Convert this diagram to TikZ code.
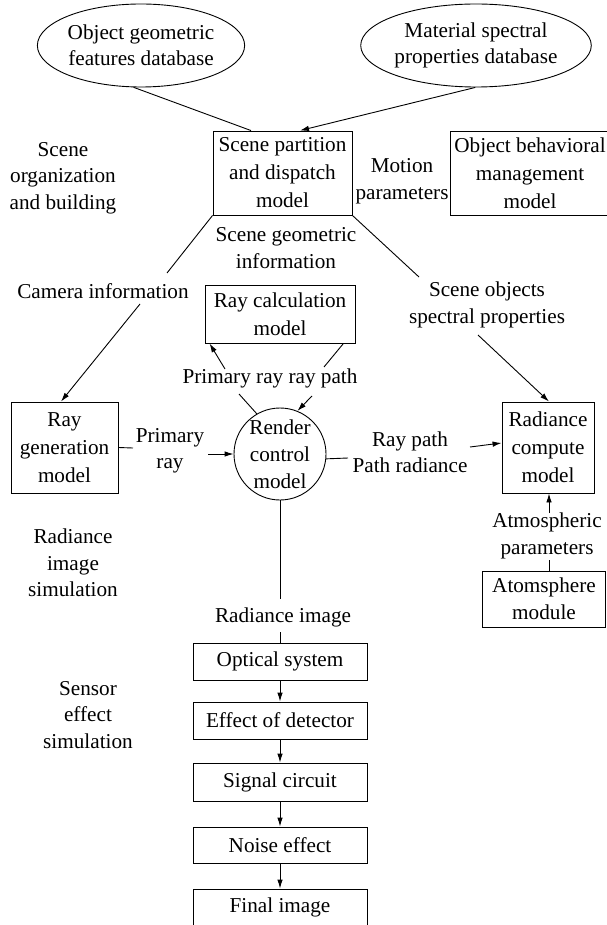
\documentclass[tikz,border=0pt]{standalone}
\usepackage{fontspec}
\setmainfont{Liberation Serif}
\usetikzlibrary{shapes.geometric,arrows.meta}
\newcommand\ffb{\fontsize{21.2}{28}\selectfont}
\newcommand\ffl{\fontsize{21.2}{26.5}\selectfont}
\newcommand\ffc{\fontsize{21.2}{27}\selectfont}
\tikzset{
  box/.style={draw, rectangle, align=center, inner sep=0pt, font=\ffb},
  oval/.style={draw, ellipse, align=center, inner sep=0pt, font=\ffl},
  lbl/.style={align=center, inner sep=0pt, font=\ffl},
  arr/.style={-{Latex[length=9pt,width=5.5pt]}},
  every path/.style={line width=0.9pt}
}
\begin{document}
\begin{tikzpicture}[x=1pt,y=-1pt]
\useasboundingbox (0,0) rectangle (606,925);
% ellipses
\node[oval, minimum width=202pt, minimum height=83pt] (e1) at (141,45.5) {Object geometric\\features database};
\node[oval, minimum width=210pt, minimum height=83pt] (e2) at (476,45.5) {Material spectral\\properties database};
% boxes
\node[box, minimum width=139pt, minimum height=84pt] (spd) at (282.5,173) {Scene partition\\and dispatch\\model};
\node[box, minimum width=160pt, minimum height=84pt] (obm) at (530,173) {Object behavioral\\management\\model};
\node[box, minimum width=150pt, minimum height=58pt] (rcalc) at (280,314) {Ray calculation\\model};
\node[box, minimum width=107pt, minimum height=91pt] (rgen) at (64.5,447.5) {Ray\\generation\\model};
\node[draw, circle, align=center, inner sep=0pt, minimum size=92pt, font=\ffc] (rcm) at (280,454) {Render\\control\\model};
\node[box, minimum width=92pt, minimum height=91pt] (radc) at (548,447.5) {Radiance\\compute\\model};
\node[box, minimum width=123pt, minimum height=56pt, font=\ffc] (atm) at (544,599) {Atomsphere\\module};
\node[box, minimum width=174pt, minimum height=37pt] (opt) at (280,661.5) {Optical system};
\node[box, minimum width=174pt, minimum height=37pt] (eod) at (280,720.5) {Effect of detector};
\node[box, minimum width=174pt, minimum height=38pt] (sig) at (280,782) {Signal circuit};
\node[box, minimum width=174pt, minimum height=36pt] (noi) at (280,845) {Noise effect};
\node[box, minimum width=174pt, minimum height=37pt] (fin) at (280,907.5) {Final image};
% labels
\node[lbl] (lorg) at (63,178) {Scene\\organization\\and building};
\node[lbl] (lmot) at (402,181) {Motion\\parameters};
\node[lbl] (lgeo) at (286,248) {Scene geometric\\information};
\node[lbl] (lcam) at (103,291) {Camera information};
\node[lbl] (lspec) at (487,305) {Scene objects\\spectral properties};
\node[lbl] (lprp) at (270,378) {Primary ray ray path};
\node[lbl] (lpr) at (170,451) {Primary\\ray};
\node[lbl] (lrp) at (410,452) {Ray path\\Path radiance};
\node[lbl] (latp) at (547,536) {Atmospheric\\parameters};
\node[lbl] (lris) at (73,563) {Radiance\\image\\simulation};
\node[lbl] (lri) at (283,617) {Radiance image};
\node[lbl] (lses) at (88,715) {Sensor\\effect\\simulation};
% free ends
\coordinate (c1) at (167,273);
\coordinate (c2) at (140,304);
\coordinate (c3) at (419,277);
\coordinate (c4) at (478,335);
\coordinate (c5) at (225,369);
\coordinate (c6) at (324,367);
\coordinate (c7) at (239,394);
\coordinate (c8) at (312,396);
\coordinate (c9) at (133,448);
\coordinate (c10) at (208,454);
\coordinate (c11) at (348,458);
\coordinate (c12) at (470,447);
\coordinate (c13) at (549,513);
\coordinate (c14) at (549,560);
\coordinate (c15) at (280,599);
\coordinate (c16) at (280,632);
% connectors
\draw (e1.-100) -- ([xshift=-31.5pt]spd.north);
\draw[arr] (e2.-91) -- ([xshift=17.5pt]spd.north);
\draw (spd.south west) -- (c1);
\draw[arr] (c2) -- ([xshift=-3.5pt]rgen.north);
\draw (spd.south east) -- (c3);
\draw[arr] (c4) -- ([xshift=1pt]radc.north);
\draw[arr] (c5) -- ([xshift=5pt]rcalc.south west);
\draw ([xshift=-12pt]rcalc.south east) -- (c6);
\draw (c7) -- (rcm.120);
\draw[arr] (c8) -- (rcm.68);
\draw (rgen.east) -- (c9);
\draw[arr] (c10) -- (rcm.west);
\draw (rcm.-6) -- (c11);
\draw[arr] (c12) -- ([yshift=4.5pt]radc.west);
\draw[arr] (c13) -- ([xshift=1pt]radc.south);
\draw (c14) -- ([xshift=5pt]atm.north);
\draw (rcm.south) -- (c15);
\draw (c16) -- (opt.north);
\draw[arr] (opt) -- (eod);
\draw[arr] (eod) -- (sig);
\draw[arr] (sig) -- (noi);
\draw[arr] (noi) -- (fin);
\end{tikzpicture}
\end{document}
